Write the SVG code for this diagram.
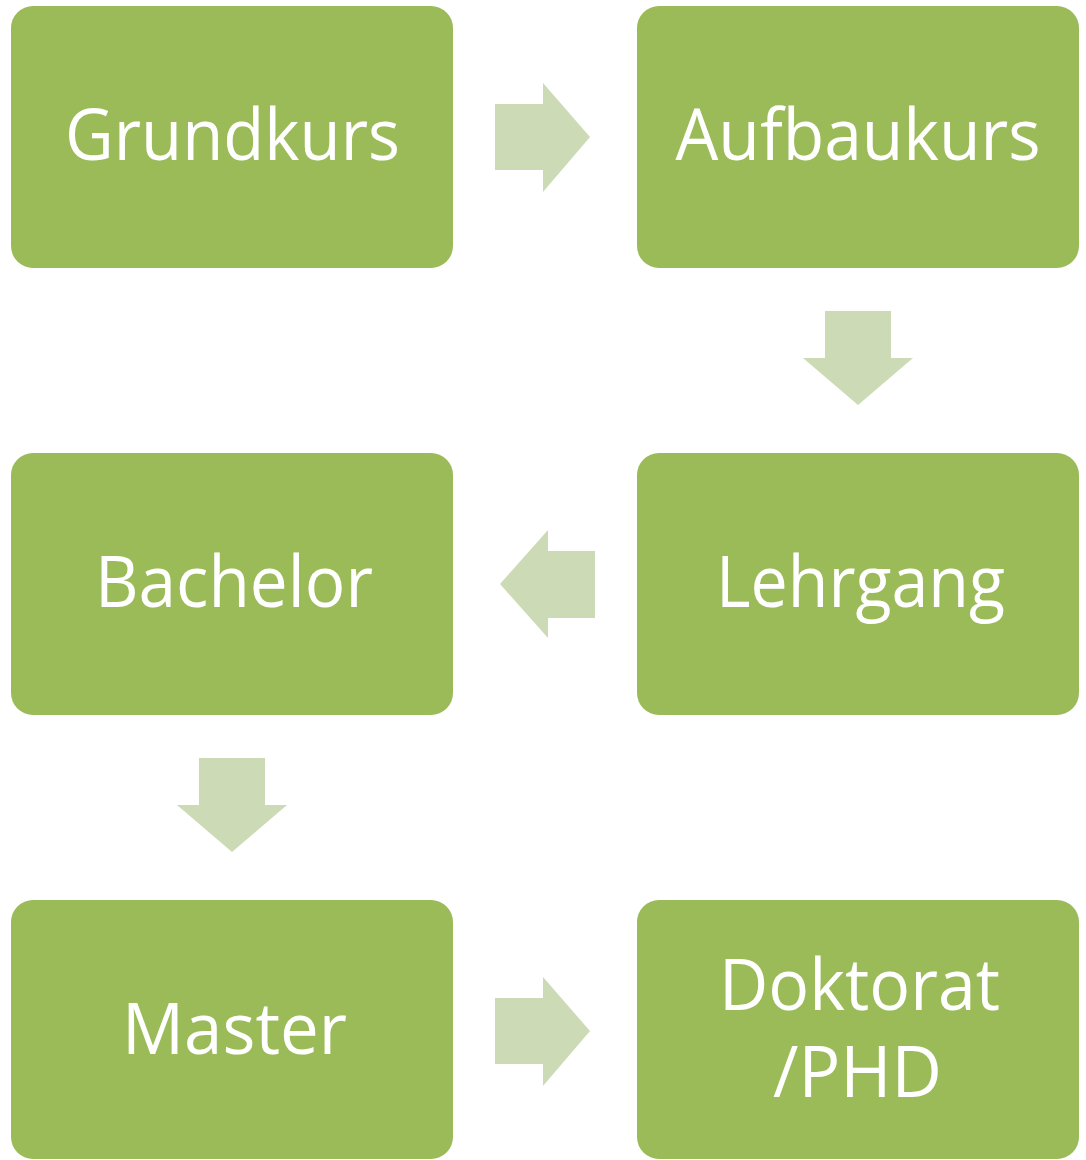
<svg xmlns="http://www.w3.org/2000/svg" width="1086" height="1160" viewBox="0 0 1086 1160">
<style>
.box{fill:#9BBB59;}
.arr{fill:#CDDAB6;}
.lbl{fill:#ffffff;font-family:"Open Sans","Noto Sans","Liberation Sans",sans-serif;font-size:72px;text-anchor:middle;}
</style>
<rect width="1086" height="1160" fill="#ffffff"/>
<g id="connectors">
<polygon class="arr" points="495,104 543,104 543,83 590,137 543,192 543,170 495,170"/>
<polygon class="arr" points="825,311 891,311 891,358 913,358 858,405 803,358 825,358"/>
<polygon class="arr" points="595,551 548,551 548,530 500,584 548,638 548,618 595,618"/>
<polygon class="arr" points="199,758 265,758 265,805 287,805 232,852 177,805 199,805"/>
<polygon class="arr" points="495,998 543,998 543,977 590,1031 543,1086 543,1064 495,1064"/>
</g>
<g id="grundkurs">
<rect class="box" x="11" y="6" width="442" height="262" rx="22"/>
<text class="lbl" x="232.5" y="160" textLength="335" lengthAdjust="spacingAndGlyphs">Grundkurs</text>
</g>
<g id="aufbaukurs">
<rect class="box" x="637" y="6" width="442" height="262" rx="22"/>
<text class="lbl" x="858" y="160" textLength="365" lengthAdjust="spacingAndGlyphs">Aufbaukurs</text>
</g>
<g id="lehrgang">
<rect class="box" x="637" y="453" width="442" height="262" rx="22"/>
<text class="lbl" x="860.5" y="607" textLength="289" lengthAdjust="spacingAndGlyphs">Lehrgang</text>
</g>
<g id="bachelor">
<rect class="box" x="11" y="453" width="442" height="262" rx="22"/>
<text class="lbl" x="234" y="607" textLength="278" lengthAdjust="spacingAndGlyphs">Bachelor</text>
</g>
<g id="master">
<rect class="box" x="11" y="900" width="442" height="259" rx="22"/>
<text class="lbl" x="234.5" y="1054" textLength="225" lengthAdjust="spacingAndGlyphs">Master</text>
</g>
<g id="doktorat">
<rect class="box" x="637" y="900" width="442" height="259" rx="22"/>
<text class="lbl" x="859.5" y="1010" textLength="281" lengthAdjust="spacingAndGlyphs">Doktorat</text>
<text class="lbl" x="857.5" y="1097" textLength="169" lengthAdjust="spacingAndGlyphs">/PHD</text>
</g>
</svg>
